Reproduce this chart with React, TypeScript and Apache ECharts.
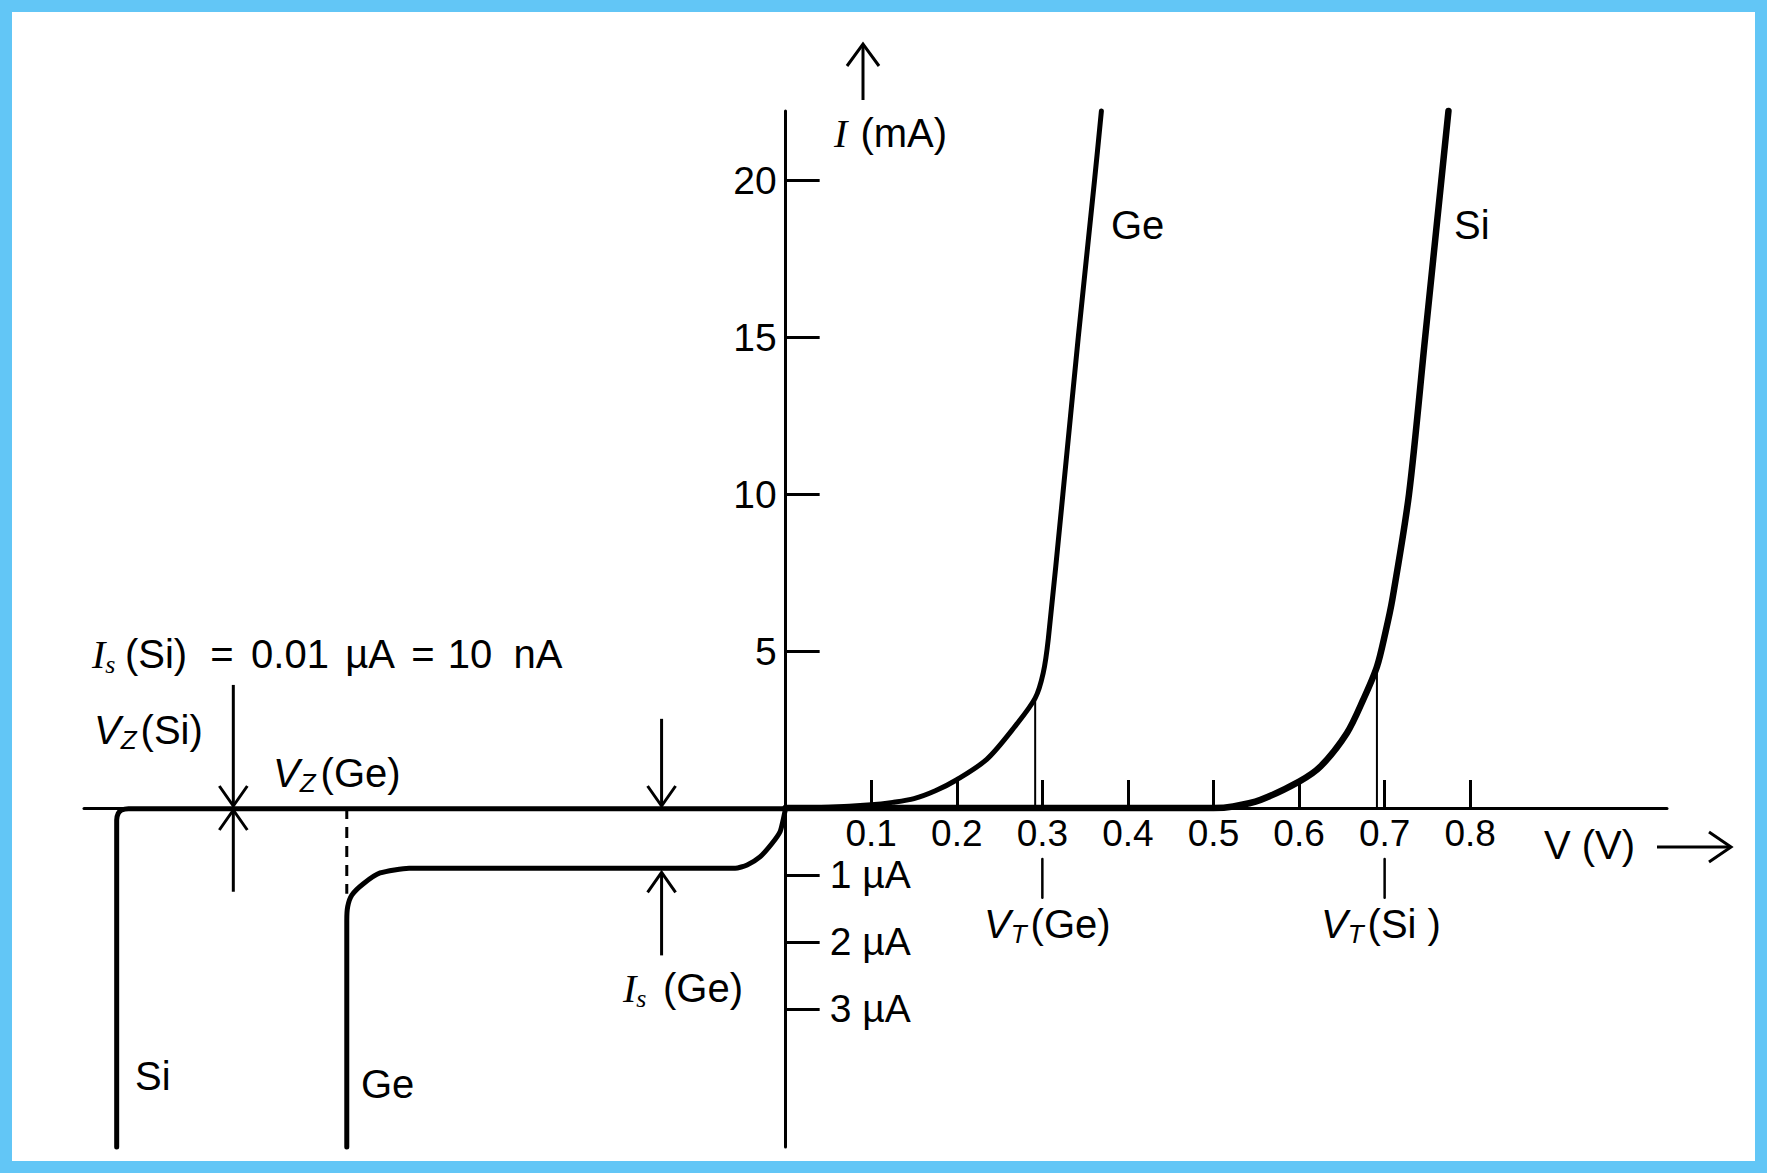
import React, { useEffect, useRef } from "react";
import * as echarts from "echarts";

// ---------- data ----------
const xTickValues = [0.1, 0.2, 0.3, 0.4, 0.5, 0.6, 0.7, 0.8];
const forwardTicksMA = [5, 10, 15, 20];
const reverseTicksUA = [-1, -2, -3];

// Forward bias (V in volts, I in mA)
const geForwardV = [0, 0.05, 0.1, 0.125, 0.15, 0.175, 0.2, 0.235, 0.268, 0.2916, 0.301, 0.307, 0.324, 0.342, 0.361, 0.369];
const geForwardMA = [0, 0.02, 0.1, 0.18, 0.3, 0.55, 0.9, 1.55, 2.6, 3.5, 4.3, 5.4, 10, 15, 20, 22.2];
const siForwardV = [0, 0.5, 0.523, 0.555, 0.6, 0.625, 0.656, 0.675, 0.691, 0.701, 0.709, 0.7285, 0.7474, 0.7663, 0.7746];
const siForwardMA = [0, 0, 0.05, 0.26, 0.84, 1.32, 2.39, 3.45, 4.5, 5.6, 6.64, 10, 15, 20, 22.2];

// Reverse bias (V, schematic scale; I in µA)
const siReverseV = [0, -0.768, -0.776, -0.78, -0.7818, -0.7818];
const siReverseUA = [-0.01, -0.01, -0.03, -0.08, -0.18, -5.06];
const geReverseV = [0, -0.0026, -0.0064, -0.016, -0.03, -0.045, -0.059, -0.44, -0.474, -0.4935, -0.507, -0.5118, -0.5129, -0.5129];
const geReverseUA = [0, -0.16, -0.35, -0.53, -0.73, -0.85, -0.9, -0.9, -0.97, -1.13, -1.3, -1.47, -1.68, -5.06];
const geZenerDashV = [-0.5129, -0.5129];
const geZenerDashUA = [0, -1.28];

// Threshold voltages
const vtGe = 0.2916, vtGeI = 3.5;
const vtSi = 0.691, vtSiI = 4.5;
const vtMarkGe = 0.3, vtMarkSi = 0.7;
const vtMarkUA = [-0.76, -1.34];

// Annotation anchors (data coordinates)
const vzSiV = -0.6455;
const isGeV = -0.145;
const isGeUA = -0.9;

// Axis ranges
const xMin = -0.82, xMax = 1.03;
const yMaxMA = 22.2, yMinUA = -5.06;

const W = 1767, H = 1173;
const GRID_LEFT = 84, GRID_RIGHT = 100;
const SANS = "'Liberation Sans', Arial, sans-serif";
const SERIF = "'Liberation Serif', 'Times New Roman', serif";
const FS = 40;
const AXFS = 37;
const SUB = 26;

const zip = (a: number[], b: number[]) => a.map((v, i) => [v, b[i]]);

type Piece = {
  t: string;
  size?: number;
  serif?: boolean;
  italic?: boolean;
  dy?: number;
  gap?: number;
  at?: number;
  center?: number;
};

export default function App() {
  const ref = useRef<HTMLDivElement>(null);
  useEffect(() => {
    document.body.style.margin = "0";
    const chart = echarts.init(ref.current!, null, { renderer: "svg" });
    const black = "#000";
    const gridW = W - GRID_LEFT - GRID_RIGHT;
    const yOffset = -((0 - xMin) / (xMax - xMin)) * gridW; // move the y axes to V = 0

    const lineSeries = (name: string, data: number[][], g: number, width: number, extra: any = {}) => ({
      name,
      type: "line",
      xAxisIndex: g,
      yAxisIndex: g,
      data,
      showSymbol: false,
      symbol: "none",
      clip: false,
      silent: true,
      lineStyle: { color: black, width, cap: "round", join: "round", ...(extra.lineStyle || {}) },
      smooth: extra.smooth ?? false,
      z: 3,
    });

    const option: any = {
      animation: false,
      backgroundColor: "#fff",
      grid: [
        { left: GRID_LEFT, right: GRID_RIGHT, top: 111, height: 697, outerBoundsMode: "none", containLabel: false },
        { left: GRID_LEFT, right: GRID_RIGHT, top: 808, height: 339, outerBoundsMode: "none", containLabel: false },
      ],
      xAxis: [
        {
          gridIndex: 0,
          type: "value",
          min: xMin,
          max: xMax,
          axisLine: { show: true, onZero: true, lineStyle: { color: black, width: 3 } },
          axisTick: { show: true, inside: true, length: 28, customValues: xTickValues, lineStyle: { color: black, width: 3 } },
          axisLabel: {
            show: true,
            customValues: xTickValues,
            formatter: (v: number) => v.toFixed(1),
            color: black,
            fontSize: AXFS,
            lineHeight: 32,
            fontFamily: SANS,
            margin: 9,
          },
          splitLine: { show: false },
        },
        { gridIndex: 1, type: "value", min: xMin, max: xMax, show: false },
      ],
      yAxis: [
        {
          gridIndex: 0,
          type: "value",
          position: "left",
          offset: yOffset,
          min: 0,
          max: yMaxMA,
          axisLine: { show: true, onZero: false, lineStyle: { color: black, width: 3 } },
          axisTick: { show: true, inside: true, length: 34, customValues: forwardTicksMA, lineStyle: { color: black, width: 3 } },
          axisLabel: {
            show: true,
            customValues: forwardTicksMA,
            formatter: (v: number) => String(v),
            color: black,
            fontSize: 39,
            lineHeight: 32,
            fontFamily: SANS,
            margin: 9,
          },
          splitLine: { show: false },
        },
        {
          gridIndex: 1,
          type: "value",
          position: "left",
          offset: yOffset,
          min: yMinUA,
          max: 0,
          axisLine: { show: true, onZero: false, lineStyle: { color: black, width: 3 } },
          axisTick: { show: true, inside: true, length: 34, customValues: reverseTicksUA, lineStyle: { color: black, width: 3 } },
          axisLabel: {
            show: true,
            inside: true,
            customValues: reverseTicksUA,
            formatter: (v: number) => `${-v} µA`,
            color: black,
            fontSize: 39,
            lineHeight: 32,
            fontFamily: SANS,
            margin: 44,
          },
          splitLine: { show: false },
        },
      ],
      series: [
        lineSeries("Ge forward", zip(geForwardV, geForwardMA), 0, 5, { smooth: 0.3 }),
        lineSeries("Si forward", zip(siForwardV, siForwardMA), 0, 6.5, { smooth: 0.3 }),
        lineSeries("VT Ge drop", [[vtGe, 0], [vtGe, vtGeI]], 0, 2),
        lineSeries("VT Si drop", [[vtSi, 0], [vtSi, vtSiI]], 0, 2),
        lineSeries("Si reverse", zip(siReverseV, siReverseUA), 1, 5, { smooth: 0.2 }),
        lineSeries("Ge reverse", zip(geReverseV, geReverseUA), 1, 5, { smooth: 0.2 }),
        lineSeries("Ge Zener dash", zip(geZenerDashV, geZenerDashUA), 1, 3, { lineStyle: { type: [11, 8], cap: "butt" } }),
        lineSeries("VT Ge mark", [[vtMarkGe, vtMarkUA[0]], [vtMarkGe, vtMarkUA[1]]], 1, 2.5),
        lineSeries("VT Si mark", [[vtMarkSi, vtMarkUA[0]], [vtMarkSi, vtMarkUA[1]]], 1, 2.5),
      ],
    };
    chart.setOption(option);

    const px = (g: number, x: number, y: number) => chart.convertToPixel({ gridIndex: g } as any, [x, y]) as number[];

    const canvas = document.createElement("canvas");
    const ctx = canvas.getContext("2d")!;
    const label = (x: number, y: number, pieces: Piece[]) => {
      const out: any[] = [];
      let cx = x;
      for (const p of pieces) {
        const size = p.size ?? FS;
        const family = p.serif ? SERIF : SANS;
        const fstyle = p.italic ? "italic" : "normal";
        ctx.font = `${fstyle} ${size}px ${family}`;
        const w = ctx.measureText(p.t).width;
        if (p.at !== undefined) cx = p.at;
        if (p.center !== undefined) cx = p.center - w / 2;
        cx += p.gap ?? 0;
        out.push({
          type: "text",
          x: cx,
          y: y + (p.dy ?? 0),
          silent: true,
          z: 10,
          style: {
            text: p.t,
            fontSize: size,
            fontFamily: family,
            fontStyle: fstyle,
            fill: black,
            textAlign: "left",
            textVerticalAlign: "middle",
          },
        });
        cx += w;
      }
      return out;
    };

    const arrow = (x1: number, y1: number, x2: number, y2: number, hw = 14, hl = 20) => {
      const dx = x2 - x1, dy = y2 - y1;
      const L = Math.hypot(dx, dy) || 1;
      const ux = dx / L, uy = dy / L;
      const bx = x2 - ux * hl, by = y2 - uy * hl;
      return [
        { type: "line", silent: true, z: 10, shape: { x1, y1, x2, y2 }, style: { stroke: black, lineWidth: 3 } },
        {
          type: "polyline",
          silent: true,
          z: 10,
          shape: { points: [[bx - uy * hw, by + ux * hw], [x2, y2], [bx + uy * hw, by - ux * hw]] },
          style: { stroke: black, lineWidth: 3, fill: null, lineJoin: "miter" },
        },
      ];
    };

    const a1 = px(0, vzSiV, 3.92), a1t = px(0, vzSiV, 0);
    const a2 = px(1, vzSiV, -1.25), a2t = px(1, vzSiV, 0);
    const a3 = px(0, isGeV, 2.84), a3t = px(0, isGeV, 0);
    const a4 = px(1, isGeV, -2.2), a4t = px(1, isGeV, isGeUA);

    const graphic: any[] = [
      {
        type: "rect",
        silent: true,
        z: 20,
        shape: { x: 6, y: 6, width: W - 12, height: H - 12 },
        style: { fill: "transparent", stroke: "#62c6f6", lineWidth: 12 },
      },
      ...arrow(a1[0], a1[1], a1t[0], a1t[1] - 2),
      ...arrow(a2[0], a2[1], a2t[0], a2t[1] + 2),
      ...arrow(a3[0], a3[1], a3t[0], a3t[1] - 2),
      ...arrow(a4[0], a4[1], a4t[0], a4t[1] + 4),
      ...arrow(863, 100, 863, 44, 16, 22),
      ...arrow(1657, 847, 1731, 847, 15, 22),
      ...label(834, 133, [{ t: "I", serif: true, italic: true }, { t: " (mA)", gap: 2 }]),
      ...label(1111, 225, [{ t: "Ge" }]),
      ...label(1454, 225, [{ t: "Si" }]),
      ...label(1544, 845, [{ t: "V (V)" }]),
      ...label(135, 1076, [{ t: "Si" }]),
      ...label(361, 1084, [{ t: "Ge" }]),
      ...label(92, 654, [
        { t: "I", serif: true, italic: true },
        { t: "s", serif: true, italic: true, size: SUB, dy: 10 },
        { t: "(Si)", center: 156 },
        { t: "=", center: 222 },
        { t: "0.01", center: 290 },
        { t: "µA", center: 370 },
        { t: "=", center: 423 },
        { t: "10", center: 470 },
        { t: "nA", center: 538 },
      ]),
      ...label(94, 730, [
        { t: "V", italic: true },
        { t: "Z", italic: true, size: SUB, dy: 10 },
        { t: "(Si)", gap: 4 },
      ]),
      ...label(273, 773, [
        { t: "V", italic: true },
        { t: "Z", italic: true, size: SUB, dy: 10 },
        { t: "(Ge)", gap: 5 },
      ]),
      ...label(984, 924, [
        { t: "V", italic: true },
        { t: "T", italic: true, size: SUB, dy: 10 },
        { t: "(Ge)", gap: 4 },
      ]),
      ...label(1321, 924, [
        { t: "V", italic: true },
        { t: "T", italic: true, size: SUB, dy: 10 },
        { t: "(Si )", gap: 4 },
      ]),
      ...label(623, 988, [
        { t: "I", serif: true, italic: true },
        { t: "s", serif: true, italic: true, size: SUB, dy: 10 },
        { t: "(Ge)", at: 663 },
      ]),
    ];
    chart.setOption({ graphic });

    return () => chart.dispose();
  }, []);
  return <div ref={ref} style={{ width: W, height: H }} />;
}
